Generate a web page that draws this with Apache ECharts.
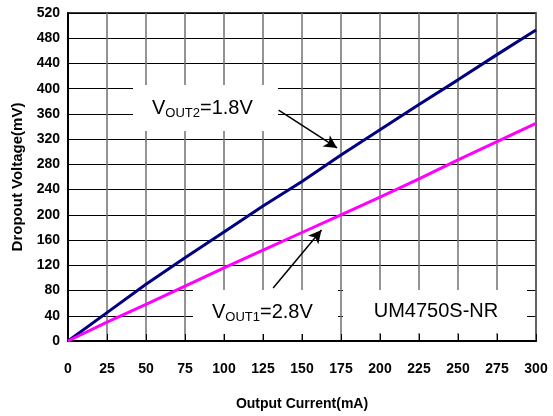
<!DOCTYPE html>
<html>
<head>
<meta charset="utf-8">
<script src="https://cdn.jsdelivr.net/npm/echarts@6/dist/echarts.min.js"></script>
<style>html,body{margin:0;padding:0;background:#fff;}#c{width:553px;height:416px;}</style>
</head>
<body>
<div id="c"></div>
<script>
var currents = [0, 25, 50, 75, 100, 125, 150, 175, 200, 225, 250, 275, 300];
var vout2_18V = [0, 45, 90, 132, 173, 214, 253, 295, 335, 375, 414, 454, 493];
var vout1_28V = [0, 30, 58, 87, 116, 144, 172, 200, 228, 257, 287, 316, 345];
var yTicks = [0, 40, 80, 120, 160, 200, 240, 280, 320, 360, 400, 440, 480, 520];
var xTicks = [0, 25, 50, 75, 100, 125, 150, 175, 200, 225, 250, 275, 300];
var arrow2 = [[135, 366], [172.5, 306]];
var arrow1 = [[131.5, 84], [162.5, 176]];

function pairs(xs, ys) { return xs.map(function (x, i) { return [x, ys[i]]; }); }

var FONT = '"Liberation Sans", Arial, sans-serif';
var NARROW = '"Liberation Sans Narrow", "Arial Narrow", "Liberation Sans", Arial, sans-serif';
var chart = echarts.init(document.getElementById('c'), null, { renderer: 'canvas' });
var subRich = {
  a: { fontSize: 20, fontFamily: FONT, color: '#000', lineHeight: 22, verticalAlign: 'bottom' },
  b: { fontSize: 13, fontFamily: FONT, color: '#000', lineHeight: 22, verticalAlign: 'bottom', padding: [0, 0, -2, 0] }
};
chart.setOption({
  animation: false,
  backgroundColor: '#fff',
  grid: { left: 68, right: 17, top: 13, bottom: 75, show: true, borderColor: '#000', borderWidth: 1.5, containLabel: false },
  xAxis: {
    type: 'value', min: 0, max: 300, interval: 25,
    name: 'Output Current(mA)', nameLocation: 'middle', nameGap: 56,
    nameTextStyle: { fontSize: 14, fontWeight: 'bold', fontFamily: FONT, color: '#000' },
    axisLine: { lineStyle: { color: '#000', width: 2 } },
    axisTick: { show: true, inside: true, length: 7, lineStyle: { color: '#000', width: 1 } },
    axisLabel: { margin: 21, fontSize: 14, fontWeight: 'bold', fontFamily: NARROW, color: '#000',
      formatter: function (v) { return xTicks.indexOf(v) >= 0 ? String(v) : ''; } },
    splitLine: { show: true, lineStyle: { color: '#707070', width: 1.5 } }
  },
  yAxis: {
    type: 'value', min: 0, max: 520, interval: 40,
    name: 'Dropout Voltage(mV)', nameLocation: 'middle', nameGap: 38,
    nameTextStyle: { fontSize: 15, fontWeight: 'bold', fontFamily: FONT, color: '#000' },
    axisLine: { show: true, lineStyle: { color: '#000', width: 2 } },
    axisTick: { show: true, inside: true, length: 7, lineStyle: { color: '#000', width: 1 } },
    axisLabel: { margin: 8, fontSize: 14, fontWeight: 'bold', fontFamily: NARROW, color: '#000',
      formatter: function (v) { return yTicks.indexOf(v) >= 0 ? String(v) : ''; } },
    splitLine: { show: true, lineStyle: { color: '#000', width: 1 } }
  },
  series: [
    {
      name: 'VOUT2=1.8V', type: 'line', data: pairs(currents, vout2_18V), showSymbol: false, smooth: false,
      lineStyle: { color: '#000080', width: 3 }, itemStyle: { color: '#000080' }, z: 5,
      markLine: {
        silent: true, symbol: ['none', 'arrow'], symbolSize: [10, 13], label: { show: false },
        lineStyle: { color: '#000', width: 1.5, type: 'solid' },
        data: [[{ coord: arrow2[0] }, { coord: arrow2[1] }]]
      }
    },
    {
      name: 'VOUT1=2.8V', type: 'line', data: pairs(currents, vout1_28V), showSymbol: false, smooth: false,
      lineStyle: { color: '#FF00FF', width: 3 }, itemStyle: { color: '#FF00FF' }, z: 5,
      markLine: {
        silent: true, symbol: ['none', 'arrow'], symbolSize: [10, 13], label: { show: false },
        lineStyle: { color: '#000', width: 1.5, type: 'solid' },
        data: [[{ coord: arrow1[0] }, { coord: arrow1[1] }]]
      }
    }
  ],
  graphic: [
    { type: 'rect', z: 50, shape: { x: 133, y: 85, width: 145, height: 46 }, style: { fill: '#fff' } },
    { type: 'rect', z: 50, shape: { x: 193, y: 290, width: 145, height: 44 }, style: { fill: '#fff' } },
    { type: 'rect', z: 50, shape: { x: 343, y: 290, width: 184, height: 43 }, style: { fill: '#fff' } },
    { type: 'text', z: 60, x: 152, y: 107, style: { text: '{a|V}{b|OUT2}{a|=1.8V}', rich: subRich, verticalAlign: 'middle', align: 'left' } },
    { type: 'text', z: 60, x: 212, y: 311, style: { text: '{a|V}{b|OUT1}{a|=2.8V}', rich: subRich, verticalAlign: 'middle', align: 'left' } },
    { type: 'text', z: 60, x: 436, y: 311, style: { text: 'UM4750S-NR', font: '20px ' + FONT, fill: '#000', verticalAlign: 'middle', align: 'center' } }
  ]
});
</script>
</body>
</html>
